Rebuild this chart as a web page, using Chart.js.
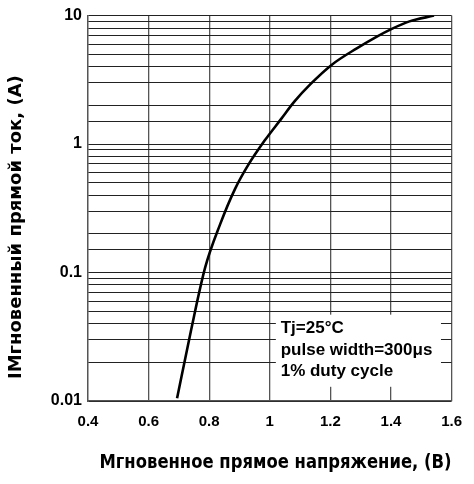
<!DOCTYPE html>
<html>
<head>
<meta charset="utf-8">
<script src="https://cdn.jsdelivr.net/npm/chart.js@4/dist/chart.umd.min.js"></script>
<style>
html,body{margin:0;padding:0;background:#fff;}
#wrap{width:474px;height:484px;}
</style>
</head>
<body>
<div id="wrap"><canvas id="c" width="474" height="484"></canvas></div>
<script>
// ---- data ----
const voltage = [0.694, 0.740, 0.787, 0.836, 0.885, 0.928, 0.983, 1.037, 1.081, 1.135, 1.205, 1.287, 1.352, 1.401, 1.461, 1.542];
const current = [0.0105, 0.0354, 0.110, 0.237, 0.446, 0.682, 1.064, 1.563, 2.138, 2.938, 4.150, 5.559, 6.839, 7.852, 9.016, 10.0];
const xTickValues = [0.4, 0.6, 0.8, 1.0, 1.2, 1.4, 1.6];
const yTickValues = [0.01, 0.1, 1, 10];
const xTitle = "Мгновенное прямое напряжение, (В)";
const yTitle = "IМгновенный прямой ток, (A)";
const noteLines = ["Tj=25°C", "pulse width=300μs", "1% duty cycle"];

const points = voltage.map((v, i) => ({x: v, y: current[i]}));
const FONT = "'Liberation Sans', Arial, Helvetica, sans-serif";
const TFONT = "'DejaVu Sans', Verdana, sans-serif";

const notePlugin = {
  id: 'note',
  beforeDatasetsDraw(chart) {
    const {ctx, scales: {x, y}} = chart;
    const left = x.getPixelForValue(1.02), right = x.getPixelForValue(1.565);
    const top = y.getPixelForValue(0.047), bottom = y.getPixelForValue(0.0129);
    ctx.save();
    ctx.fillStyle = '#fff';
    ctx.fillRect(left, top, right - left, bottom - top);
    ctx.fillStyle = '#000';
    ctx.font = "bold 17px " + FONT;
    ctx.textBaseline = 'middle';
    ctx.textAlign = 'left';
    const tx = x.getPixelForValue(1.036);
    const ys = [0.0369, 0.0249, 0.0171];
    noteLines.forEach((t, i) => ctx.fillText(t, tx, y.getPixelForValue(ys[i])));
    ctx.restore();
  }
};

new Chart(document.getElementById('c'), {
  type: 'line',
  data: {
    datasets: [{
      data: points,
      borderColor: '#000',
      borderWidth: 2.6,
      pointRadius: 0,
      fill: false,
      cubicInterpolationMode: 'monotone'
    }]
  },
  options: {
    responsive: false,
    animation: false,
    devicePixelRatio: 1,
    layout: {padding: {top: 15, right: 18, left: 0, bottom: 0}},
    plugins: {legend: {display: false}, tooltip: {enabled: false}},
    scales: {
      x: {
        type: 'linear',
        min: 0.4, max: 1.6,
        afterBuildTicks(s) { s.ticks = xTickValues.map(v => ({value: v})); },
        afterFit(s) { s.height = 83; },
        grid: {color: '#555', lineWidth: 1.3, drawTicks: false},
        border: {color: '#555', width: 1.3},
        ticks: {
          padding: 12,
          color: '#000',
          font: {family: FONT, size: 15, weight: 'bold'},
          maxRotation: 0,
          autoSkip: false,
          callback: v => String(Number(v.toFixed(1)))
        },
        title: {
          display: true,
          text: "\u00a0\u00a0" + xTitle,
          color: '#000',
          font: {family: TFONT, size: 19, weight: 'bold'},
          padding: {top: 0, bottom: 10}
        }
      },
      y: {
        type: 'logarithmic',
        min: 0.01, max: 10,
        afterFit(s) { s.width = 88; },
        grid: {color: '#222', lineWidth: 1, drawTicks: false},
        border: {color: '#555', width: 1.3},
        ticks: {
          padding: 6,
          color: '#000',
          autoSkip: false,
          font: {family: FONT, size: 16, weight: 'bold'},
          callback: v => {
            const hit = yTickValues.find(t => Math.abs(Math.log10(v) - Math.log10(t)) < 1e-6);
            return hit !== undefined ? String(hit) : '';
          }
        },
        title: {
          display: true,
          text: yTitle + "\u00a0\u00a0\u00a0\u00a0\u00a0\u00a0",
          color: '#000',
          font: {family: TFONT, size: 18, weight: 'bold'},
          padding: {top: 6, bottom: 0}
        }
      }
    }
  },
  plugins: [notePlugin]
});
</script>
</body>
</html>
